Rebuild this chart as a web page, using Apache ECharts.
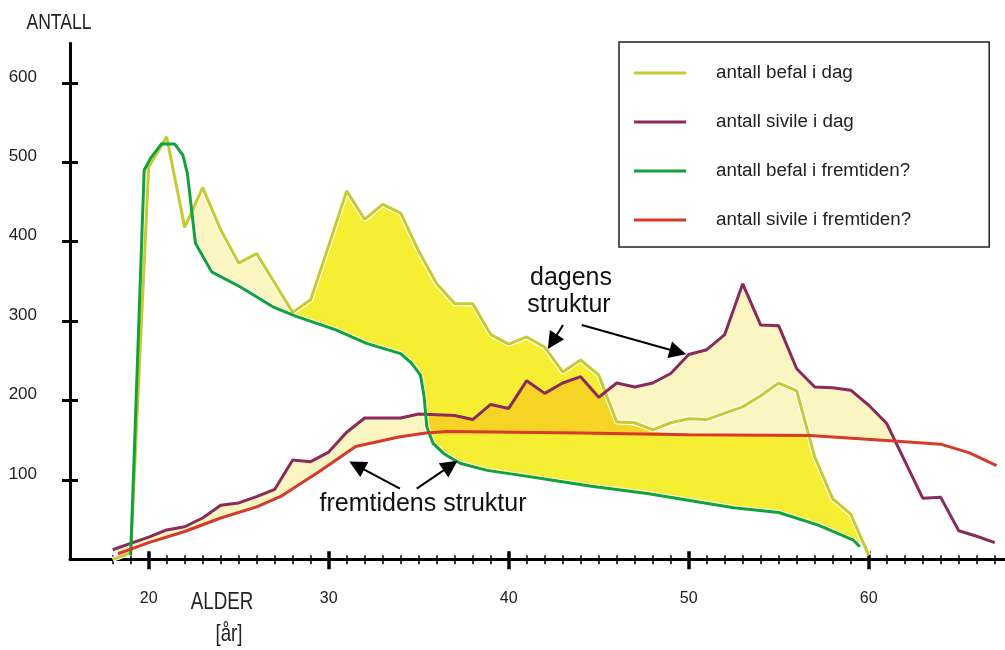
<!DOCTYPE html>
<html>
<head>
<meta charset="utf-8">
<script src="https://cdn.jsdelivr.net/npm/echarts@6/dist/echarts.min.js"></script>
<style>
  html, body { margin: 0; padding: 0; background: #fff; }
  #chart { width: 1005px; height: 650px; }
</style>
</head>
<body>
<div id="chart"></div>
<script>
// befal i dag (alder -> antall)
const befalDagAlder = [18, 19, 20, 21, 22, 23, 24, 25, 26, 27, 28, 29, 30, 31, 32, 33, 34, 35, 36, 37, 38, 39,
  40, 41, 42, 43, 44, 45, 46, 47, 48, 49, 50, 51, 52, 53, 54, 55, 56, 57, 58, 59, 60]
const befalDag = [0, 8, 494, 532, 418, 468, 415, 373, 385, 348, 311, 327, 395, 464, 428, 447, 436, 388, 347, 322, 322, 283,
  271, 280, 267, 236, 251, 232, 173, 172, 163, 172, 177, 176, 184, 192, 206, 222, 212, 129, 76, 57, 5]

// sivile i dag
const sivileDagAlder = [18, 19, 20, 21, 22, 23, 24, 25, 26, 27, 28, 29, 30, 31, 32, 33, 34, 35, 36, 37, 38, 39, 40, 41, 42,
  43, 44, 45, 46, 47, 48, 49, 50, 51, 52, 53, 54, 55, 56, 57, 58, 59, 60, 61, 62, 63, 64, 65, 66, 67]
const sivileDag = [12, 20, 28, 37, 41, 52, 68, 71, 79, 88, 125, 123, 135, 160, 178, 178, 178, 183, 182, 181, 176, 195, 190, 225, 209,
  222, 230, 204, 222, 217, 222, 234, 258, 264, 283, 347, 295, 294, 240, 217, 216, 213, 194, 171, 124, 77, 78, 36, 29, 21]

// befal i fremtiden
const befalFremAlder = [19, 19.75, 20.1, 20.7, 21.45, 21.9, 22.15, 22.6, 23.5, 25.1, 26.9, 28.2, 30.4, 32.1, 34, 34.6, 35.1,
  35.3, 35.45, 35.8, 36.4, 37.3, 38.8, 40.6, 42, 44.6, 47.7, 50.3, 52.5, 55, 57.2, 59.15, 59.5]
const befalFrem = [5, 490, 505, 523, 523, 509, 486, 398, 362, 343, 318, 306, 289, 272, 259, 247, 232,
  205, 167, 146, 133, 121, 112, 106, 101, 92, 83, 73, 65, 59, 43, 24, 16]

// sivile i fremtiden
const sivileFremAlder = [18.3, 20, 22, 24, 26, 27.4, 29.5, 31.5, 33.9, 35.4, 36.6, 44, 50, 56.7, 61.4, 64, 65.6, 67.1]
const sivileFrem = [7, 21, 35, 52, 66, 80, 111, 142, 154, 159, 161, 159, 157, 156, 149, 145, 134, 118]

const smaaTikk = [18, 19, 20, 21, 22, 23, 24, 25, 26, 27, 28, 29, 30, 31, 32, 33, 34, 35, 36, 37, 38, 39, 40, 41, 42,
  43, 44, 45, 46, 47, 48, 49, 50, 51, 52, 53, 54, 55, 56, 57, 58, 59, 60, 61, 62, 63, 64, 65, 66, 67]
const storeTikk = [20, 30, 40, 50, 60]
const yTikk = [100, 200, 300, 400, 500, 600]

// pilene: [fra alder, fra antall, til alder, til antall]
const piler = [
  [43.02, 295, 42.43, 274],
  [44.06, 295, 49.4, 261],
  [33.96, 89, 31.56, 118],
  [34.89, 89, 36.77, 118]
]

const C_BEFAL = '#c6cb33'
const C_SIVILE = '#8a2b5e'
const C_BFREM = '#11a23a'
const C_SFREM = '#d63a2a'
const C_LYS = '#faf5c1'
const C_GUL = '#f5ee33'
const C_ORANSJE = '#f6d425'

const SANS = "'Liberation Sans', Arial, sans-serif"

function at(xs, ys, x) {
  if (x < xs[0] - 1e-9 || x > xs[xs.length - 1] + 1e-9) return null
  for (let i = 1; i < xs.length; i++) {
    if (x <= xs[i]) {
      const t = (x - xs[i - 1]) / (xs[i] - xs[i - 1])
      return ys[i - 1] + t * (ys[i] - ys[i - 1])
    }
  }
  return ys[ys.length - 1]
}

const bDag = x => at(befalDagAlder, befalDag, x)
const sDag = x => at(sivileDagAlder, sivileDag, x)
const bFrem = x => at(befalFremAlder, befalFrem, x)
const sFrem = x => at(sivileFremAlder, sivileFrem, x)

function minN(a, b) { return a == null || b == null ? null : Math.min(a, b) }
function maxN(a, b) { return a == null || b == null ? null : Math.max(a, b) }

// top of the bright area: follows befal i dag, then sivile i fremtiden after 46
function gulTopp(x) {
  const y = bDag(x)
  if (x <= 46 || y == null) return y
  const r = sFrem(x)
  const kile = Math.max(0, (48.8 - x) / 2.8) * (bDag(46) - sFrem(46))
  return Math.min(y, r + kile)
}

// polygon between two curves where upper is above lower
function band(upper, lower, x0, x1) {
  const top = [], bot = []
  let prev = null
  const n = Math.round((x1 - x0) / 0.05)
  for (let i = 0; i <= n; i++) {
    const x = +(x0 + i * 0.05).toFixed(3)
    const u = upper(x), l = lower(x)
    if (u == null || l == null) continue
    const d = u - l
    if (prev && (prev.d > 0) !== (d > 0)) {
      const t = prev.d / (prev.d - d)
      const xc = prev.x + t * (x - prev.x)
      const yc = prev.l + t * (l - prev.l)
      top.push([xc, yc]); bot.push([xc, yc])
    }
    top.push([x, Math.max(u, l)]); bot.push([x, l])
    prev = { x, d, l }
  }
  return top.concat(bot.reverse())
}

function fillSeries(pts, color) {
  return {
    type: 'custom',
    silent: true,
    data: [[40, 100]],
    z: 1,
    renderItem: (params, api) => ({
      type: 'polygon',
      shape: { points: pts.map(p => api.coord(p)) },
      style: { fill: color }
    })
  }
}

function lineSeries(name, xs, ys, color, width, z) {
  return {
    type: 'line',
    name,
    data: xs.map((x, i) => [x, ys[i]]),
    color,
    symbol: 'none',
    silent: true,
    z: z || 3,
    lineStyle: { color, width: width || 3 }
  }
}

const xBase = { type: 'value', min: 15.63, max: 67.57, position: 'bottom', splitLine: { show: false } }
const tick = (vals, inside, length, width) => ({
  show: true, inside, length, customValues: vals, lineStyle: { color: '#000', width }
})

// narrow lettering in the original: squeeze the free texts horizontally
function tekst(str, x, y, size, sx, color) {
  return {
    type: 'text', x, y, scaleX: sx,
    style: { text: str, font: size + 'px ' + SANS, fill: color, align: 'center', verticalAlign: 'middle' }
  }
}

const chart = echarts.init(document.getElementById('chart'))
chart.setOption({
  animation: false,
  textStyle: { fontFamily: SANS },
  grid: { left: 70, right: 0, top: 43.2, bottom: 90.7 },
  xAxis: [
    { ...xBase, axisLine: { show: true, lineStyle: { color: '#000', width: 3 } },
      axisTick: tick(smaaTikk, false, 5, 1.5), axisLabel: { show: false } },
    { ...xBase, axisLine: { show: false }, axisTick: tick(smaaTikk, true, 4, 1.5), axisLabel: { show: false } },
    { ...xBase, axisLine: { show: false }, axisTick: tick(storeTikk, false, 10, 3.5),
      axisLabel: { show: true, customValues: storeTikk, margin: 31, fontSize: 16, color: '#222' } },
    { ...xBase, axisLine: { show: false }, axisTick: tick(storeTikk, true, 8, 3.5), axisLabel: { show: false } }
  ],
  yAxis: [
    { type: 'value', min: 0, max: 650, position: 'left', splitLine: { show: false },
      axisLine: { show: true, lineStyle: { color: '#000', width: 3 } },
      axisTick: tick(yTikk, false, 8, 3),
      axisLabel: { show: true, customValues: yTikk, margin: 33, fontSize: 17, color: '#222',
        verticalAlign: 'bottom', lineHeight: 12 } },
    { type: 'value', min: 0, max: 650, position: 'left', splitLine: { show: false },
      axisLine: { show: false }, axisTick: tick(yTikk, true, 8, 3), axisLabel: { show: false } }
  ],
  legend: {
    data: ['antall befal i dag', 'antall sivile i dag', 'antall befal i fremtiden?', 'antall sivile i fremtiden?'],
    orient: 'vertical',
    left: 619,
    top: 42,
    padding: [19, 78, 15, 15],
    itemGap: 25,
    itemWidth: 52,
    itemHeight: 3,
    icon: 'rect',
    selectedMode: false,
    borderColor: '#222',
    borderWidth: 1.5,
    textStyle: { fontSize: 18.8, lineHeight: 24, color: '#222', padding: [0, 0, 0, 25] }
  },
  graphic: [
    tekst('ANTALL', 59, 23, 22, 0.8, '#222'),
    tekst('ALDER', 222, 602, 24, 0.78, '#222'),
    tekst('[år]', 229, 634, 24, 0.78, '#222'),
    tekst('dagens', 571, 278, 25, 1, '#111'),
    tekst('struktur', 569, 305, 25, 1, '#111'),
    tekst('fremtidens struktur', 423, 504, 25, 1, '#111')
  ],
  series: [
    fillSeries(band(bDag, bFrem, 21.8, 28), C_LYS),
    fillSeries(band(sDag, sFrem, 18.3, 67), C_LYS),
    fillSeries(band(gulTopp, bFrem, 28, 60), C_GUL),
    fillSeries(band(x => minN(sDag(x), gulTopp(x)), x => maxN(sFrem(x), bFrem(x)), 28, 60), C_ORANSJE),
    // thin white edge along the befal lines, as in the original artwork
    lineSeries('kant befal i dag', befalDagAlder, befalDag, '#fff', 5, 2),
    lineSeries('kant befal i fremtiden', befalFremAlder, befalFrem, '#fff', 5, 2),
    lineSeries('antall befal i dag', befalDagAlder, befalDag, C_BEFAL),
    lineSeries('antall sivile i dag', sivileDagAlder, sivileDag, C_SIVILE),
    lineSeries('antall befal i fremtiden?', befalFremAlder, befalFrem, C_BFREM),
    {
      ...lineSeries('antall sivile i fremtiden?', sivileFremAlder, sivileFrem, C_SFREM),
      markLine: {
        silent: true,
        symbol: ['none', 'triangle'],
        symbolSize: 17,
        label: { show: false },
        lineStyle: { color: '#000', width: 2, type: 'solid' },
        data: piler.map(p => [{ coord: [p[0], p[1]] }, { coord: [p[2], p[3]] }])
      }
    }
  ]
})
</script>
</body>
</html>
